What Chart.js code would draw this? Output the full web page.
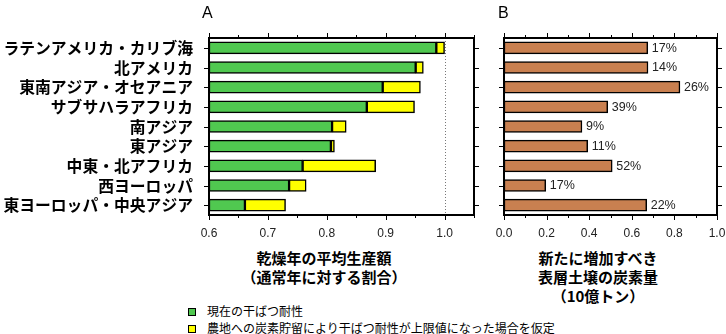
<!DOCTYPE html>
<html><head><meta charset="utf-8">
<script src="https://cdn.jsdelivr.net/npm/chart.js@4.4.1/dist/chart.umd.min.js"></script>
<style>
html,body{margin:0;padding:0;background:#fff;}
body{width:726px;height:334px;overflow:hidden;position:relative;font-family:"Noto Sans CJK JP",sans-serif;color:#000;}
canvas{position:absolute;top:0;}
#cA{left:0;width:490px;height:245px;}
#cB{left:490px;width:236px;height:245px;}
.pl{position:absolute;font-family:"Liberation Sans",Arial,sans-serif;font-size:16px;line-height:16px;top:5px;}
.ttl{position:absolute;width:220px;text-align:center;font-weight:bold;font-size:15px;line-height:19px;white-space:nowrap;}
.lg{position:absolute;left:188px;font-size:12px;line-height:17px;white-space:nowrap;}
.lg span.sw{display:inline-block;width:8px;height:8px;border:1px solid #000;box-sizing:border-box;vertical-align:middle;margin-right:11px;position:relative;top:-1px;}
</style></head>
<body>
<canvas id="cA" width="490" height="245"></canvas>
<canvas id="cB" width="236" height="245"></canvas>
<div class="pl" style="left:202px">A</div>
<div class="pl" style="left:498px">B</div>
<div class="ttl" id="tA" style="left:214px;top:248px"></div>
<div class="ttl" id="tB" style="left:488px;top:248px"></div>
<div class="lg" style="top:302px"><span class="sw" id="sw1"></span><span id="lg1"></span></div>
<div class="lg" style="top:319px"><span class="sw" id="sw2"></span><span id="lg2"></span></div>
<script>
// ---- data ----
const regions = ["ラテンアメリカ・カリブ海","北アメリカ","東南アジア・オセアニア","サブサハラアフリカ","南アジア","東アジア","中東・北アフリカ","西ヨーロッパ","東ヨーロッパ・中央アジア"];
const currentTolerance = [0.986,0.951,0.895,0.868,0.809,0.807,0.759,0.736,0.661];
const maxTolerance     = [1.000,0.964,0.959,0.949,0.833,0.813,0.883,0.765,0.730];
const soilCarbon       = [0.675,0.676,0.826,0.487,0.366,0.393,0.508,0.196,0.670];
const carbonShare      = [17,14,26,39,9,11,52,17,22];
const ticksA = [0.6,0.7,0.8,0.9,1.0];
const ticksB = [0.0,0.2,0.4,0.6,0.8,1.0];
const rangeA = [0.6,1.05];
const rangeB = [0.0,1.0];
const refLineA = 1.0;
const titleA = ["乾燥年の平均生産額","（通常年に対する割合）"];
const titleB = ["新たに増加すべき","表層土壌の炭素量","（10億トン）"];
const legendLabels = ["現在の干ばつ耐性","農地への炭素貯留により干ばつ耐性が上限値になった場合を仮定"];

const GREEN="#50C850", YELLOW="#FFFF00", BROWN="#C98050";

document.getElementById('tA').innerHTML = titleA.join('<br>');
document.getElementById('tB').innerHTML = titleB.join('<br>');
document.getElementById('lg1').textContent = legendLabels[0];
document.getElementById('lg2').textContent = legendLabels[1];
document.getElementById('sw1').style.background = GREEN;
document.getElementById('sw2').style.background = YELLOW;

function frameTicks(minorStep, majors){
  return {
    id:'frameTicks',
    afterDraw(chart){
      const ctx=chart.ctx, a=chart.chartArea, xs=chart.scales.x, ys=chart.scales.y;
      ctx.save();
      ctx.strokeStyle='#000'; ctx.lineWidth=1;
      const line=(x1,y1,x2,y2)=>{ctx.beginPath();ctx.moveTo(x1,y1);ctx.lineTo(x2,y2);ctx.stroke();};
      const n=Math.round((xs.max-xs.min)/minorStep);
      for(let i=0;i<=n;i++){
        const v=xs.min+i*minorStep;
        const px=Math.round(xs.getPixelForValue(v))+0.5;
        const L=majors.some(m=>Math.abs(m-v)<1e-6)?5:3;
        line(px,a.top,px,a.top-L);
        line(px,a.bottom,px,a.bottom+L);
      }
      for(let i=0;i<ys.ticks.length;i++){
        const py=Math.round(ys.getPixelForTick(i))+0.5;
        line(a.left,py,a.left-5,py);
        line(a.right,py,a.right+5,py);
      }
      ctx.lineWidth=2;
      ctx.strokeRect(a.left,a.top,a.right-a.left,a.bottom-a.top);
      ctx.restore();
    }
  };
}

const refLine = {
  id:'refLine',
  beforeDatasetsDraw(chart){
    const ctx=chart.ctx, a=chart.chartArea, xs=chart.scales.x;
    const px=Math.round(xs.getPixelForValue(refLineA))+0.5;
    ctx.save(); ctx.strokeStyle='#777'; ctx.lineWidth=1; ctx.setLineDash([1,2]);
    ctx.beginPath(); ctx.moveTo(px,a.top); ctx.lineTo(px,a.bottom); ctx.stroke();
    ctx.restore();
  }
};

const pctLabels = {
  id:'pctLabels',
  afterDatasetsDraw(chart){
    const ctx=chart.ctx, meta=chart.getDatasetMeta(0);
    ctx.save(); ctx.fillStyle='#222'; ctx.font='12.5px "Liberation Sans", Arial, sans-serif';
    ctx.textBaseline='middle'; ctx.textAlign='left';
    meta.data.forEach((el,i)=>{ ctx.fillText(carbonShare[i]+'%', el.x+4, el.y+0.5); });
    ctx.restore();
  }
};

const tickFont={family:'"Liberation Sans", Arial, sans-serif', size:12};

function xScale(range, ticks){
  return {
    type:'linear', position:'bottom', min:range[0], max:range[1],
    grid:{display:false, drawTicks:false}, border:{display:false},
    afterBuildTicks:s=>{ s.ticks=ticks.map(v=>({value:v})); },
    afterFit:s=>{ s.height=30; s.paddingLeft=0; s.paddingRight=0; },
    ticks:{font:tickFont, color:'#222', padding:11, maxRotation:0, autoSkip:false,
      callback:v=>Number(v).toFixed(1)}
  };
}

new Chart(document.getElementById('cA'), {
  type:'bar',
  data:{
    labels:regions,
    datasets:[
      {data:regions.map((r,i)=>[currentTolerance[i], maxTolerance[i]]),
       backgroundColor:YELLOW, borderColor:'#000', borderWidth:1.5, borderSkipped:false, barThickness:12},
      {data:regions.map((r,i)=>[rangeA[0], currentTolerance[i]]),
       backgroundColor:GREEN, borderColor:'#000', borderWidth:1.5, borderSkipped:false, barThickness:12}
    ]
  },
  options:{
    indexAxis:'y', responsive:false, animation:false, devicePixelRatio:1,
    layout:{padding:{left:0, top:38, right:16, bottom:0}},
    plugins:{legend:{display:false}, tooltip:{enabled:false}},
    scales:{
      x:xScale(rangeA, ticksA),
      y:{type:'category', stacked:true, grid:{display:false, drawTicks:false}, border:{display:false},
         afterFit:s=>{ s.width=209; },
         ticks:{font:{family:'"Noto Sans CJK JP", sans-serif', size:15.8, weight:'bold'}, color:'#000', padding:16, autoSkip:false}}
    }
  },
  plugins:[refLine, frameTicks(0.05, ticksA)]
});

new Chart(document.getElementById('cB'), {
  type:'bar',
  data:{
    labels:regions,
    datasets:[
      {data:soilCarbon, backgroundColor:BROWN, borderColor:'#000', borderWidth:1.5, borderSkipped:false, barThickness:12}
    ]
  },
  options:{
    indexAxis:'y', responsive:false, animation:false, devicePixelRatio:1,
    layout:{padding:{left:14, top:38, right:9, bottom:0}},
    plugins:{legend:{display:false}, tooltip:{enabled:false}},
    scales:{
      x:xScale(rangeB, ticksB),
      y:{type:'category', display:false}
    }
  },
  plugins:[pctLabels, frameTicks(0.1, ticksB)]
});
</script>
</body></html>
